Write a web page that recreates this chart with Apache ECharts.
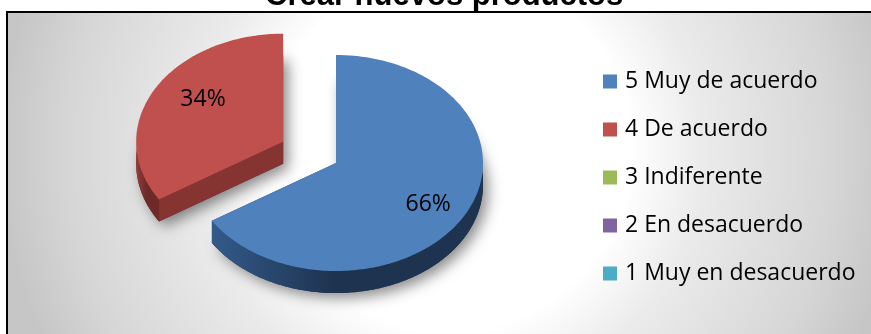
<!DOCTYPE html>
<html>
<head>
<meta charset="utf-8">
<script src="https://cdn.jsdelivr.net/npm/echarts@6/dist/echarts.min.js"></script>
<style>
  html, body { margin: 0; padding: 0; background: #fff; }
  #chart { width: 871px; height: 334px; }
</style>
</head>
<body>
<div id="chart"></div>
<script>
// Survey answers and their share of responses
const categories = ['5 Muy de acuerdo', '4 De acuerdo', '3 Indiferente', '2 En desacuerdo', '1 Muy en desacuerdo'];
const values = [66, 34, 0, 0, 0];
const titleText = 'Crear nuevos productos';

// Face colours (top face, rim side light/dark, cut face)
const topColors  = ['#4F81BD', '#C0504D', '#9BBB59', '#8064A2', '#4BACC6'];
const rimLight   = ['#335a8a', '#943c3a', '#748c43', '#5f4a7a', '#388194'];
const rimDark    = ['#1e3350', '#6e2a28', '#55672f', '#46375a', '#28606e'];
const cutColors  = ['#2a4870', '#853432', '#6a803d', '#58466f', '#347688'];
const exploded   = [0, 1, 0, 0, 0];

// Projected pie geometry (elliptical top face extruded downwards)
const CX = 336, CY = 163, RX = 147, RY = 108, DEPTH = 22, EXPLODE = 0.41;
const LABEL_R = 0.7;
const LABEL_NUDGE = [[2, 5], [10, -6], [0, 0], [0, 0], [0, 0]];

const total = values.reduce((a, b) => a + b, 0);

function pt(cx, cy, t, dy) {
  return [cx + RX * Math.sin(t), cy - RY * Math.cos(t) + dy];
}
function arc(cx, cy, a, b, dy) {
  const pts = [];
  const n = Math.max(2, Math.ceil((b - a) / (Math.PI / 180)));
  for (let k = 0; k <= n; k++) pts.push(pt(cx, cy, a + (b - a) * k / n, dy));
  return pts;
}

function renderSlice(params, api) {
  const i = params.seriesIndex;
  const v = api.value(0);
  if (!v) return;
  let before = 0;
  for (let k = 0; k < i; k++) before += values[k];
  const a0 = before / total * Math.PI * 2;
  const a1 = a0 + v / total * Math.PI * 2;
  const mid = (a0 + a1) / 2;
  const off = exploded[i] * EXPLODE;
  const cx = CX + off * RX * Math.sin(mid);
  const cy = CY - off * RY * Math.cos(mid);

  const children = [];
  // footprint carrying the soft drop shadow
  children.push({
    type: 'polygon',
    shape: { points: [[cx, cy + DEPTH]].concat(arc(cx, cy, a0, a1, DEPTH)) },
    style: { fill: rimDark[i], shadowBlur: 14, shadowColor: 'rgba(0,0,0,0.45)', shadowOffsetX: 5, shadowOffsetY: 5 }
  });
  // radial cut faces
  [a0, a1].forEach(function (a) {
    const p = pt(cx, cy, a, 0);
    children.push({
      type: 'polygon',
      shape: { points: [[cx, cy], p, [p[0], p[1] + DEPTH], [cx, cy + DEPTH]] },
      style: { fill: cutColors[i] }
    });
  });
  // visible (front) part of the rim
  const s = Math.max(a0, Math.PI / 2), e = Math.min(a1, Math.PI * 1.5);
  if (s < e) {
    const upper = arc(cx, cy, s, e, 0);
    const lower = arc(cx, cy, s, e, DEPTH).reverse();
    children.push({
      type: 'polygon',
      shape: { points: upper.concat(lower) },
      style: {
        fill: new echarts.graphic.LinearGradient(0, 0, 1, 0, [
          { offset: 0, color: rimLight[i] },
          { offset: 0.45, color: rimDark[i] },
          { offset: 1, color: rimDark[i] }
        ])
      }
    });
  }
  // top face
  children.push({
    type: 'polygon',
    shape: { points: [[cx, cy]].concat(arc(cx, cy, a0, a1, 0)) },
    style: { fill: topColors[i] }
  });
  // percentage label
  const lp = [
    cx + LABEL_R * RX * Math.sin(mid) + LABEL_NUDGE[i][0],
    cy - LABEL_R * RY * Math.cos(mid) + LABEL_NUDGE[i][1]
  ];
  children.push({
    type: 'text',
    style: {
      text: Math.round(v / total * 100) + '%',
      x: lp[0], y: lp[1],
      align: 'center', verticalAlign: 'middle',
      fill: '#000',
      font: '23px "Open Sans"'
    }
  });
  return { type: 'group', children: children };
}

const series = categories.map(function (name, i) {
  return {
    type: 'custom',
    name: name,
    coordinateSystem: 'none',
    data: [values[i]],
    itemStyle: { color: topColors[i] },
    renderItem: renderSlice,
    z: 5
  };
});

const chart = echarts.init(document.getElementById('chart'), null, { renderer: 'canvas' });
chart.setOption({
  animation: false,
  backgroundColor: '#fff',
  title: {
    text: titleText,
    left: 265,
    top: -19,
    padding: 0,
    textStyle: { fontFamily: 'Liberation Sans', fontWeight: 'bold', fontSize: 31, color: '#000', lineHeight: 31 }
  },
  graphic: {
    elements: [{
      type: 'rect',
      silent: true,
      z: 0,
      shape: { x: 7, y: 12, width: 900, height: 400 },
      style: {
        fill: new echarts.graphic.RadialGradient(450, 150, 450, [
          { offset: 0, color: '#ffffff' },
          { offset: 0.4, color: '#ffffff' },
          { offset: 0.56, color: '#ebebeb' },
          { offset: 0.85, color: '#d6d6d6' },
          { offset: 1, color: '#c6c6c6' }
        ], true),
        stroke: '#000',
        lineWidth: 2
      }
    }]
  },
  legend: {
    orient: 'vertical',
    left: 603,
    top: 70,
    icon: 'rect',
    itemWidth: 14,
    itemHeight: 14,
    itemGap: 25,
    padding: 0,
    textStyle: { fontFamily: 'Open Sans', fontSize: 23, color: '#000', padding: [0, 0, 0, 3] },
    data: categories
  },
  series: series
});
</script>
</body>
</html>
